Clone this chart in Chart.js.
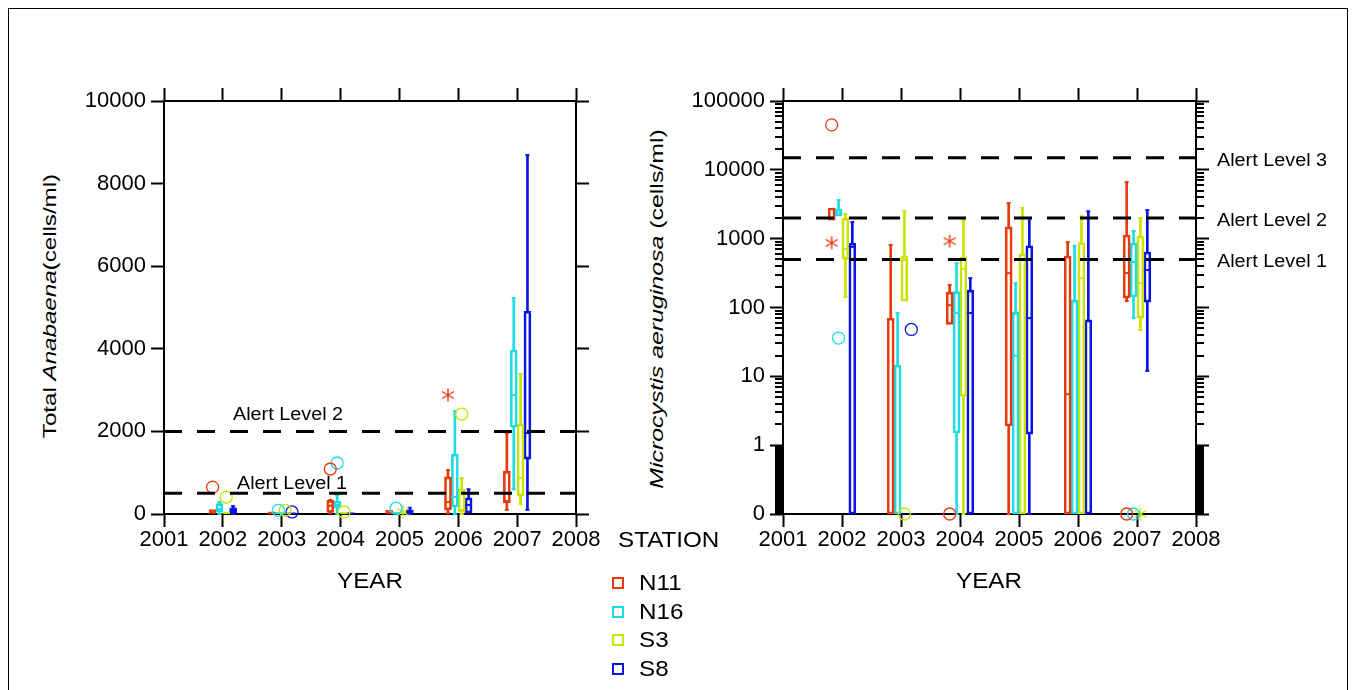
<!DOCTYPE html>
<html>
<head>
<meta charset="utf-8">
<script src="https://cdn.jsdelivr.net/npm/chart.js@4.4.1/dist/chart.umd.min.js"></script>
<style>
html,body{margin:0;padding:0;background:#fff;}
body{width:1356px;height:690px;overflow:hidden;position:relative;font-family:"Liberation Sans",Arial,sans-serif;color:#000;}
#frame{position:absolute;left:8px;top:8px;width:1340px;height:720px;border:1px solid #000;box-sizing:border-box;}
canvas{position:absolute;}
.t{position:absolute;white-space:nowrap;line-height:1;}
.sw{position:absolute;width:8px;height:8px;border:2px solid;}
</style>
</head>
<body>
<div id="frame"></div>
<canvas id="anaChart" width="550" height="500" style="left:60px;top:70px;"></canvas>
<canvas id="micChart" width="660" height="500" style="left:680px;top:70px;"></canvas>
<div class="t" style="left:49px;top:306px;font-size:19px;transform:translate(-50%,-50%) rotate(-90deg) scaleX(1.27);">Total <i>Anabaena</i>(cells/ml)</div>
<div class="t" style="left:656px;top:309px;font-size:19px;transform:translate(-50%,-50%) rotate(-90deg) scaleX(1.31);"><i>Microcystis aeruginosa</i> (cells/ml)</div>
<div class="t" style="left:370px;top:581px;font-size:22px;transform:translate(-50%,-50%) scaleX(1.1);">YEAR</div>
<div class="t" style="left:989px;top:581px;font-size:22px;transform:translate(-50%,-50%) scaleX(1.1);">YEAR</div>
<div id="legend"></div>
<script>
// ---------------- DATA ----------------
const years = [2002, 2003, 2004, 2005, 2006, 2007];
const stations = ['N11', 'N16', 'S3', 'S8'];
const stationColors = ['#EA3A0C', '#1CDDE6', '#C8E400', '#0A14E6'];
const xTickValues = [2001, 2002, 2003, 2004, 2005, 2006, 2007, 2008];
const xTickLabels = ['2001', '2002', '2003', '2004', '2005', '2006', '2007', '2008'];
const anaTickValues = [0, 2000, 4000, 6000, 8000, 10000];
const anaTickLabels = ['0', '2000', '4000', '6000', '8000', '10000'];
const micTickValues = [0.1, 1, 10, 100, 1000, 10000, 100000]; // bottom position carries the "0" label
const micTickLabels = ['0', '1', '10', '100', '1000', '10000', '100000'];
const anaAlertValues = [500, 2000];
const anaAlertNames = ['Alert Level 1', 'Alert Level 2'];
const micAlertValues = [500, 2000, 15000];
const micAlertNames = ['Alert Level 1', 'Alert Level 2', 'Alert Level 3'];

// Total Anabaena box stats per year: [low whisker, Q1, median, Q3, high whisker]
const anaN11 = [[0, 0, 40, 110, 110], [0, 0, 20, 50, 50], [25, 40, 200, 330, 340], [0, 0, 30, 90, 90], [20, 100, 290, 900, 1065], [100, 270, 310, 1040, 1960]];
const anaN16 = [[0, 50, 120, 250, 290], [0, 0, 20, 40, 40], [0, 145, 220, 315, 460], [0, 0, 10, 40, 40], [0, 170, 410, 1450, 2490], [600, 2100, 2880, 3970, 5230]];
const anaS3  = [[0, 0, 20, 40, 40], [0, 0, 10, 30, 30], [0, 0, 20, 40, 40], [0, 0, 10, 20, 20], [0, 50, 100, 600, 870], [240, 440, 870, 2180, 3390]];
const anaS8  = [[0, 30, 80, 150, 190], [0, 0, 10, 30, 30], [0, 0, 10, 30, 30], [0, 20, 60, 100, 150], [20, 20, 220, 390, 600], [100, 1330, 1960, 4910, 8690]];
// outliers: [year, value, marker]  'o' = outlier, '*' = extreme
const anaOutN11 = [[2002, 650, 'o'], [2004, 1090, 'o'], [2006, 2880, '*']];
const anaOutN16 = [[2003, 90, 'o'], [2004, 1235, 'o'], [2005, 140, 'o']];
const anaOutS3  = [[2002, 410, 'o'], [2003, 90, 'o'], [2004, 50, 'o'], [2005, 50, '*'], [2006, 2420, 'o']];
const anaOutS8  = [[2003, 50, 'o']];

// Microcystis aeruginosa box stats per year
const micN11 = [[1860, 1860, 2000, 2790, 2790], [0, 0, 0, 70, 810], [57, 57, 108, 167, 212], [0, 1.9, 316, 1480, 3290], [0, 0, 5.5, 560, 890], [124, 137, 316, 1130, 6650]];
const micN16 = [[2120, 2120, 2400, 2700, 3640], [0, 0, 0, 14.5, 83], [0, 1.5, 83, 170, 440], [0, 0, 20, 85, 225], [0, 0, 0, 128, 790], [70, 142, 457, 863, 1290]];
const micS3  = [[142, 505, 710, 1990, 2280], [124, 124, 490, 558, 2500], [0, 5.1, 362, 537, 1860], [0, 0, 0, 600, 2790], [0, 0, 267, 880, 2120], [47, 70, 226, 1090, 1990]];
const micS8  = [[0, 0, 760, 860, 1740], [0, 0, 0, 0, 0], [0, 0, 83, 179, 267], [0, 1.45, 70, 790, 1990], [0, 0, 0, 66, 2500], [12, 120, 350, 640, 2600]];
const micOutN11 = [[2002, 45000, 'o'], [2002, 870, '*'], [2004, 920, '*'], [2004, 0, 'o'], [2007, 0, 'o']];
const micOutN16 = [[2002, 36, 'o'], [2007, 0, 'o']];
const micOutS3  = [[2003, 0, 'o'], [2007, 0, '*']];
const micOutS8  = [[2003, 48, 'o']];

// ---------------- STYLE / LAYOUT ----------------
const FONT = '"Liberation Sans", Arial, sans-serif';
Chart.defaults.font.family = FONT;
Chart.defaults.color = '#000';
const stationOffsets = [-0.175, -0.058, 0.058, 0.175];

function anaY(v) { return v; }
function micY(v) { return v <= 0 ? micTickValues[0] : v; }

// six-armed asterisk marker image
function asteriskImage(color) {
  const c = document.createElement('canvas');
  c.width = 16; c.height = 16;
  const g = c.getContext('2d');
  g.strokeStyle = color;
  g.lineWidth = 1.4;
  g.beginPath();
  g.moveTo(8, 1.5); g.lineTo(8, 14.5);
  g.moveTo(2, 4.5); g.lineTo(14, 11.5);
  g.moveTo(2, 11.5); g.lineTo(14, 4.5);
  g.stroke();
  return c;
}

function buildDatasets(statsList, outList, mapY, alertValues) {
  const ds = [];
  statsList.forEach((stats, s) => {
    const color = stationColors[s];
    const off = stationOffsets[s];
    const boxes = [], whisk = [], meds = [], caps = [];
    stats.forEach((st, i) => {
      if (!st) return;
      const x = years[i] + off;
      const [mn, q1, md, q3, mx] = st.map(mapY);
      if (q3 > q1) boxes.push({x: x, y: [q1, q3]});
      if (mx > q3) { whisk.push({x: x, y: [q3, mx]}); caps.push({x: x, y: mx}); }
      if (mn < q1) { whisk.push({x: x, y: [mn, q1]}); caps.push({x: x, y: mn}); }
      meds.push({x: x, y: md});
    });
    ds.push({type: 'bar', label: stations[s] + ' box', data: boxes, borderColor: color, backgroundColor: 'rgba(0,0,0,0)',
      borderWidth: 2, borderSkipped: false, barThickness: 7, grouped: false, order: 5});
    ds.push({type: 'bar', label: stations[s] + ' whisker', data: whisk, backgroundColor: color, borderWidth: 0,
      barThickness: 2, grouped: false, order: 6});
    ds.push({type: 'scatter', label: stations[s] + ' median', data: meds, pointStyle: 'line', pointRadius: 3.5,
      pointBorderWidth: 2, pointBorderColor: color, order: 4});
    ds.push({type: 'scatter', label: stations[s] + ' caps', data: caps, pointStyle: 'line', pointRadius: 2,
      pointBorderWidth: 2, pointBorderColor: color, order: 4, clip: false});
    const outs = outList[s];
    const circ = outs.filter(o => o[2] === 'o').map(o => ({x: o[0] + off, y: mapY(o[1])}));
    const star = outs.filter(o => o[2] === '*').map(o => ({x: o[0] + off, y: mapY(o[1])}));
    ds.push({type: 'scatter', label: stations[s] + ' outliers', data: circ, pointStyle: 'circle', pointRadius: 6,
      pointBorderWidth: 1.3, pointBorderColor: color, pointBackgroundColor: 'rgba(0,0,0,0)', order: 2, clip: false});
    ds.push({type: 'scatter', label: stations[s] + ' extremes', data: star, pointStyle: asteriskImage(color), pointRadius: 7,
      pointBorderColor: color, order: 2, clip: false});
  });
  alertValues.forEach(v => {
    ds.push({type: 'line', label: 'alert ' + v, data: [{x: xTickValues[0], y: v}, {x: xTickValues[xTickValues.length - 1], y: v}],
      borderColor: '#000', borderWidth: 3, borderDash: [18, 15], pointRadius: 0, order: 0, clip: false});
  });
  return ds;
}

const decorPlugin = {
  id: 'decor',
  afterDraw(chart, args, opts) {
    const ctx = chart.ctx, a = chart.chartArea, y = chart.scales.y;
    ctx.save();
    if (opts.minor) {
      ctx.strokeStyle = '#000';
      ctx.lineWidth = 2;
      ctx.beginPath();
      opts.minor.forEach(v => {
        const p = Math.round(y.getPixelForValue(v));
        ctx.moveTo(a.left - 8, p); ctx.lineTo(a.left, p);
        ctx.moveTo(a.right, p); ctx.lineTo(a.right + 8, p);
      });
      ctx.stroke();
      const p0 = y.getPixelForValue(opts.denseFrom), p1 = y.getPixelForValue(opts.denseTo);
      ctx.fillStyle = '#000';
      ctx.fillRect(a.left - 8, p1, 8, p0 - p1);
      ctx.fillRect(a.right, p1, 8, p0 - p1);
    }
    (opts.labels || []).forEach(l => {
      ctx.save();
      ctx.font = '18px ' + FONT;
      ctx.fillStyle = '#000';
      ctx.textBaseline = 'middle';
      ctx.textAlign = 'left';
      const px = l.side === 'right' ? a.right + l.dx : a.left + l.dx;
      ctx.translate(px, y.getPixelForValue(l.value) + l.dy);
      ctx.scale(1.1, 1);
      ctx.fillText(l.text, 0, 0);
      ctx.restore();
    });
    ctx.restore();
  }
};

function axisCommon() {
  return {
    grid: {drawOnChartArea: false, drawTicks: true, tickLength: 13, tickWidth: 2, tickColor: '#000', offset: false},
    border: {display: true, color: '#000', width: 2}
  };
}

function makeChart(canvasId, datasets, yType, yMin, yMax, yTickVals, yTickLabs, sizes, decor) {
  const tickFont = {size: 22, family: FONT};
  const xBase = () => Object.assign(axisCommon(), {
    type: 'linear', min: xTickValues[0], max: xTickValues[xTickValues.length - 1], offset: false,
    afterBuildTicks: s => { s.ticks = xTickValues.map(v => ({value: v})); }
  });
  const yBase = () => Object.assign(axisCommon(), {
    type: yType, min: yMin, max: yMax,
    afterBuildTicks: s => { s.ticks = yTickVals.map(v => ({value: v})); }
  });
  const x = xBase();
  x.position = 'bottom';
  x.ticks = {font: tickFont, color: '#000', padding: 0, maxRotation: 0, autoSkip: false, callback: (v, i) => xTickLabels[i]};
  x.afterFit = s => { s.height = sizes.bottom; };
  const x2 = xBase();
  x2.position = 'top';
  x2.ticks = {display: false};
  x2.afterFit = s => { s.height = sizes.top; };
  const y = yBase();
  y.position = 'left';
  y.ticks = {font: tickFont, color: '#000', padding: 5, autoSkip: false, callback: (v, i) => yTickLabs[i]};
  y.afterFit = s => { s.width = sizes.left; };
  const y2 = yBase();
  y2.position = 'right';
  y2.ticks = {display: false};
  y2.afterFit = s => { s.width = sizes.right; };
  return new Chart(document.getElementById(canvasId), {
    type: 'bar',
    data: {datasets: datasets},
    options: {
      responsive: false,
      animation: false,
      events: [],
      layout: {autoPadding: false, padding: 0},
      plugins: {legend: {display: false}, tooltip: {enabled: false}, title: {display: false}, decor: decor},
      scales: {x: x, x2: x2, y: y, y2: y2}
    },
    plugins: [decorPlugin]
  });
}

const anaDatasets = buildDatasets([anaN11, anaN16, anaS3, anaS8], [anaOutN11, anaOutN16, anaOutS3, anaOutS8], anaY, anaAlertValues);
makeChart('anaChart', anaDatasets, 'linear', anaTickValues[0], anaTickValues[anaTickValues.length - 1], anaTickValues, anaTickLabels,
  {left: 104, right: 34, top: 31, bottom: 56},
  {labels: [
    {text: anaAlertNames[1], value: anaAlertValues[1], side: 'left', dx: 69, dy: -16},
    {text: anaAlertNames[0], value: anaAlertValues[0], side: 'left', dx: 73, dy: -9}
  ]});

const micMinor = [];
for (let e = 0; e < 5; e++) for (let k = 2; k <= 9; k++) micMinor.push(k * Math.pow(10, e));
const micDatasets = buildDatasets([micN11, micN16, micS3, micS8], [micOutN11, micOutN16, micOutS3, micOutS8], micY, micAlertValues);
makeChart('micChart', micDatasets, 'logarithmic', micTickValues[0], micTickValues[micTickValues.length - 1], micTickValues, micTickLabels,
  {left: 103, right: 144, top: 31, bottom: 56},
  {minor: micMinor, denseFrom: micTickValues[0], denseTo: micTickValues[1],
   labels: micAlertNames.map((n, i) => ({text: n, value: micAlertValues[i], side: 'right', dx: 21, dy: 3}))});

// ---------------- LEGEND ----------------
const leg = document.getElementById('legend');
const head = document.createElement('div');
head.className = 't';
head.style.cssText = 'left:618px;top:540px;font-size:22px;transform:translateY(-50%) scaleX(1.1);transform-origin:left center;';
head.textContent = 'STATION';
leg.appendChild(head);
const legRows = [583, 612, 640, 669];
stations.forEach((s, i) => {
  const sw = document.createElement('div');
  sw.className = 'sw';
  sw.style.left = '612px';
  sw.style.top = (legRows[i] - 6) + 'px';
  sw.style.borderColor = stationColors[i];
  leg.appendChild(sw);
  const tx = document.createElement('div');
  tx.className = 't';
  tx.style.cssText = 'left:639px;top:' + legRows[i] + 'px;font-size:22px;transform:translateY(-50%) scaleX(1.1);transform-origin:left center;';
  tx.textContent = s;
  leg.appendChild(tx);
});
</script>
</body>
</html>
